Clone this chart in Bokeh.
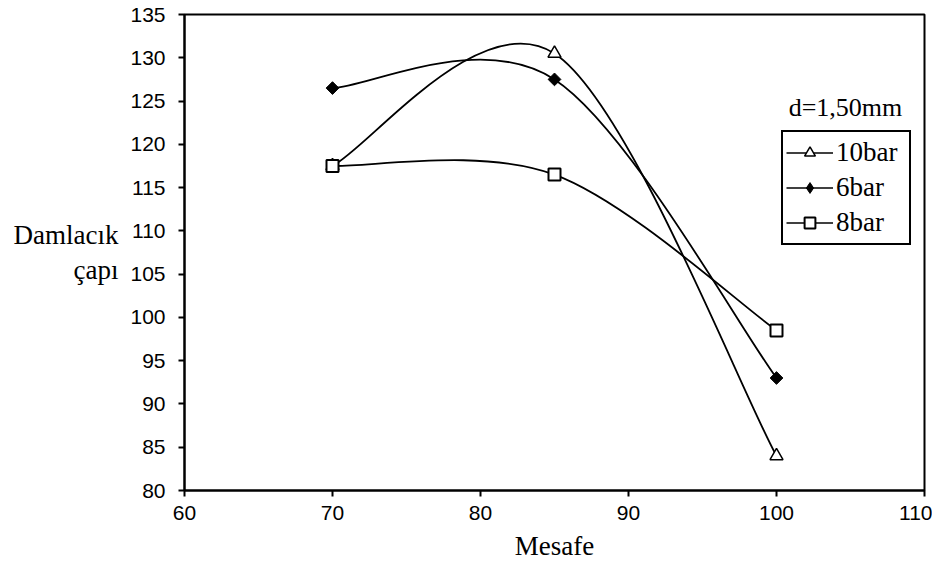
import math
from bokeh.plotting import figure
from bokeh.models import Legend, LegendItem, Label, ColumnDataSource
from bokeh.embed import file_html
from bokeh.resources import INLINE

# ---- data ----
mesafe = [70, 85, 100]
bar10 = [117.5, 130.5, 84.0]
bar6 = [126.5, 127.5, 93.0]
bar8 = [117.5, 116.5, 98.5]
series_names = ["10bar", "6bar", "8bar"]
x_ticks = [60, 70, 80, 90, 100, 110]
y_ticks = [80, 85, 90, 95, 100, 105, 110, 115, 120, 125, 130, 135]

SERIF = "Liberation Serif"
SANS = "Liberation Sans"


def smooth_segments(x, y, t=1.0 / 6.0):
    """Excel-like smoothed line: cubic Bezier control points from neighbours."""
    n = len(x)
    d = dict(x0=[], y0=[], x1=[], y1=[], cx0=[], cy0=[], cx1=[], cy1=[])
    for i in range(n - 1):
        pm = i - 1 if i > 0 else 0
        pp = i + 2 if i + 2 < n else n - 1
        d["x0"].append(x[i]); d["y0"].append(y[i])
        d["x1"].append(x[i + 1]); d["y1"].append(y[i + 1])
        d["cx0"].append(x[i] + (x[i + 1] - x[pm]) * t)
        d["cy0"].append(y[i] + (y[i + 1] - y[pm]) * t)
        d["cx1"].append(x[i + 1] - (x[pp] - x[i]) * t)
        d["cy1"].append(y[i + 1] - (y[pp] - y[i]) * t)
    return ColumnDataSource(d)


p = figure(width=932, height=563, x_range=(60, 110), y_range=(80, 135),
           output_backend="svg", toolbar_location=None,
           min_border_left=184, min_border_right=8,
           min_border_top=14, min_border_bottom=40)

p.background_fill_color = "white"
p.border_fill_color = "white"
p.outline_line_color = "black"
p.outline_line_width = 2
p.xgrid.visible = False
p.ygrid.visible = False

for ax in (p.xaxis[0], p.yaxis[0]):
    ax.axis_line_width = 2
    ax.axis_line_color = "black"
    ax.major_tick_line_color = "black"
    ax.major_tick_line_width = 2
    ax.major_tick_in = 0
    ax.major_tick_out = 6
    ax.minor_tick_line_color = None
    ax.major_label_text_font = SANS
    ax.major_label_text_font_size = "21px"
    ax.major_label_text_color = "black"

p.xaxis.ticker = x_ticks
p.yaxis.ticker = y_ticks
p.xaxis.major_label_standoff = 9
p.yaxis.major_label_standoff = 13
p.xaxis.axis_label = "Mesafe"
p.xaxis.axis_label_text_font = SERIF
p.xaxis.axis_label_text_font_style = "normal"
p.xaxis.axis_label_text_font_size = "27px"
p.xaxis.axis_label_standoff = 8
p.xaxis.axis_label_text_color = "black"

p.yaxis.axis_label = "Damlacık\nçapı"
p.yaxis.axis_label_orientation = "horizontal"
p.yaxis.axis_label_text_font = SERIF
p.yaxis.axis_label_text_font_style = "normal"
p.yaxis.axis_label_text_font_size = "27px"
p.yaxis.axis_label_text_color = "black"
p.yaxis.axis_label_text_align = "center"
p.yaxis.axis_label_text_line_height = 1.15
p.yaxis.axis_label_standoff = 9

styles = [
    dict(marker="triangle", size=13, angle=0.0, fill_color="white", line_width=1.5),
    dict(marker="square", size=9, angle=math.pi / 4, fill_color="black", line_width=1),
    dict(marker="square", size=12, angle=0.0, fill_color="white", line_width=2),
]

items = []
for name, ys, st in zip(series_names, [bar10, bar6, bar8], styles):
    src = smooth_segments(mesafe, ys)
    p.bezier(x0="x0", y0="y0", x1="x1", y1="y1", cx0="cx0", cy0="cy0",
             cx1="cx1", cy1="cy1", source=src, line_color="black", line_width=1.8)
    # single-point line: invisible in the plot, used for the legend's line sample
    legend_line = p.line(x=mesafe[:1], y=ys[:1], line_color="black", line_width=1.6)
    if st["angle"]:
        # legend ignores marker angle: a diamond hidden under the rotated square
        legend_mark = p.scatter(x=mesafe[:1], y=ys[:1], marker="diamond", size=11,
                                fill_color="black", line_color="black", line_width=1)
    sc = p.scatter(x=mesafe, y=ys, marker=st["marker"], size=st["size"],
                   angle=st["angle"], fill_color=st["fill_color"],
                   line_color="black", line_width=st["line_width"])
    if not st["angle"]:
        legend_mark = sc
    items.append(LegendItem(label=name, renderers=[legend_line, legend_mark]))

legend = Legend(items=items, location=(597, 245))
legend.label_text_font = SERIF
legend.label_text_font_size = "27px"
legend.label_text_color = "black"
legend.glyph_width = 47
legend.glyph_height = 27
legend.label_height = 35
legend.label_width = 70
legend.label_standoff = 3
legend.spacing = 0
legend.padding = 3
legend.margin = 0
legend.border_line_color = "black"
legend.border_line_alpha = 1.0
legend.border_line_width = 2
legend.background_fill_color = "white"
legend.background_fill_alpha = 1
p.add_layout(legend, "center")

p.add_layout(Label(x=104.66, y=124.3, text="d=1,50mm", text_align="center",
                   text_baseline="middle", text_font=SERIF,
                   text_font_size="26px", text_color="black"))

open("out.html", "w").write(file_html(p, INLINE))
